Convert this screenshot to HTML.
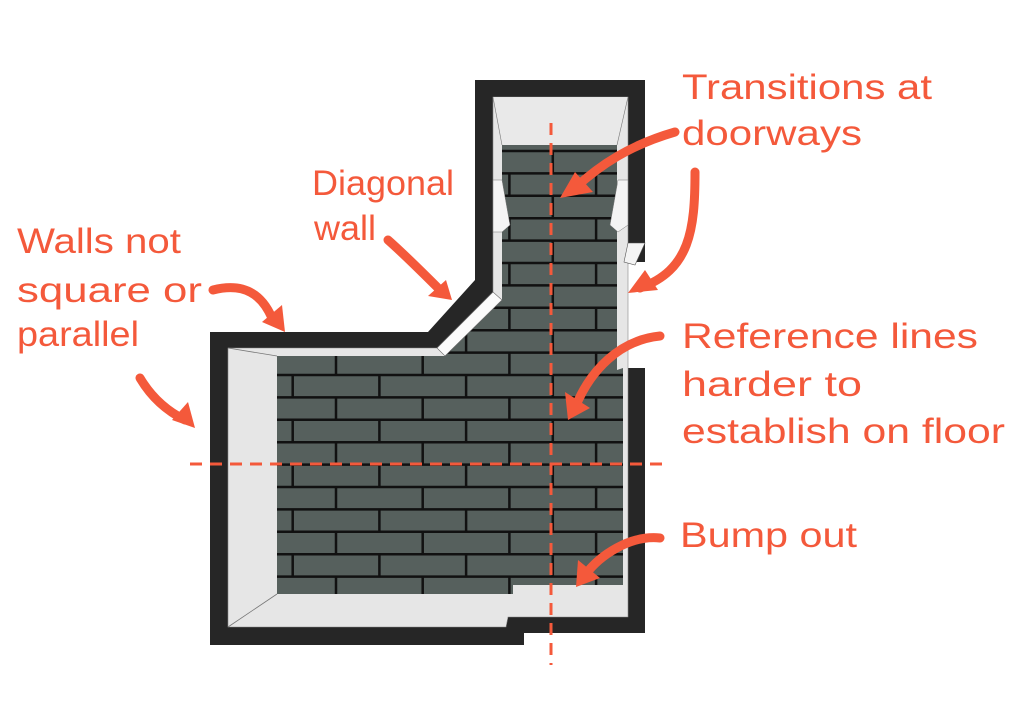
<!DOCTYPE html>
<html><head><meta charset="utf-8"><style>
html,body{margin:0;padding:0;background:#fff;width:1024px;height:721px;overflow:hidden}
text{font-family:"Liberation Sans",sans-serif;fill:#f4593b;font-size:35px}
</style></head><body>
<svg width="1024" height="721" viewBox="0 0 1024 721" xmlns="http://www.w3.org/2000/svg">
<defs>
<clipPath id="tc"><polygon points="277,356 445,356 502,300 502,145 617,145 617,370 623,368 623,585 513,585 513,594 277,594"/></clipPath>
</defs>
<polygon points="210,332 428,332 475,280 475,80 645,80 645,633 524,633 524,645 210,645" fill="#262626"/>
<rect x="624" y="262" width="30" height="106" fill="#fff"/>
<polygon points="228,348 437,348 493,292 493,97 628,97 628,617 508,617 506,627 228,627" fill="#e6e6e6" stroke="#888" stroke-width="0.6"/>
<line x1="228" y1="348" x2="277" y2="356" stroke="#777" stroke-width="0.8"/>
<line x1="228" y1="627" x2="277" y2="594" stroke="#777" stroke-width="0.8"/>
<polygon points="628,243 645,243 635,265 624,262" fill="#f4f4f4" stroke="#555" stroke-width="0.6"/>
<g clip-path="url(#tc)">
<rect x="270" y="140" width="360" height="460" fill="#56605d"/>
<g stroke="#111" stroke-width="2.5">
<path d="M270 151.0H630M270 173.4H630M270 195.8H630M270 218.2H630M270 240.6H630M270 263.0H630M270 285.4H630M270 307.8H630M270 330.2H630M270 352.6H630M270 375.0H630M270 397.4H630M270 419.8H630M270 442.2H630M270 464.6H630M270 487.0H630M270 509.4H630M270 531.8H630M270 554.2H630M270 576.6H630"/>
<path d="M552.8 151V173.4M509.4 173.4V195.8M596.1 173.4V195.8M552.8 195.8V218.2M509.4 218.2V240.6M596.1 218.2V240.6M552.8 240.6V263M509.4 263V285.4M596.1 263V285.4M552.8 285.4V307.8M509.4 307.8V330.2M596.1 307.8V330.2M466.1 330.2V352.6M552.8 330.2V352.6"/>
<path d="M336 352.6V375M422.7 352.6V375M509.4 352.6V375M596.1 352.6V375"/>
<path d="M292.7 375V397.4M379.4 375V397.4M466.1 375V397.4M552.8 375V397.4"/>
<path d="M336 397.4V419.8M422.7 397.4V419.8M509.4 397.4V419.8M596.1 397.4V419.8"/>
<path d="M292.7 419.8V442.2M379.4 419.8V442.2M466.1 419.8V442.2M552.8 419.8V442.2"/>
<path d="M336 442.2V464.6M422.7 442.2V464.6M509.4 442.2V464.6M596.1 442.2V464.6"/>
<path d="M292.7 464.6V487M379.4 464.6V487M466.1 464.6V487M552.8 464.6V487"/>
<path d="M336 487V509.4M422.7 487V509.4M509.4 487V509.4M596.1 487V509.4"/>
<path d="M292.7 509.4V531.8M379.4 509.4V531.8M466.1 509.4V531.8M552.8 509.4V531.8"/>
<path d="M336 531.8V554.2M422.7 531.8V554.2M509.4 531.8V554.2M596.1 531.8V554.2"/>
<path d="M292.7 554.2V576.6M379.4 554.2V576.6M466.1 554.2V576.6M552.8 554.2V576.6"/>
<path d="M336 576.6V599M422.7 576.6V599M509.4 576.6V599M596.1 576.6V599"/>
</g>
</g>
<polygon points="437,348 493,292 502,300 445,356" fill="#fbfbfb" stroke="#666" stroke-width="0.6"/>
<polygon points="493,180 502,180 510,225 502,232 493,232" fill="#f4f4f4" stroke="#777" stroke-width="0.5"/>
<polygon points="628,180 618,180 610,225 618,232 628,225" fill="#f4f4f4" stroke="#777" stroke-width="0.5"/>
<polygon points="493,97 628,97 617,145 502,145" fill="#e9e9e9" opacity="0.9"/>
<line x1="493" y1="97" x2="502" y2="145" stroke="#777" stroke-width="0.6"/>
<line x1="628" y1="97" x2="617" y2="145" stroke="#777" stroke-width="0.6"/>
<line x1="190" y1="464" x2="666" y2="464" stroke="#f4593b" stroke-width="3" stroke-dasharray="12,8"/>
<line x1="551" y1="123" x2="551" y2="665" stroke="#f4593b" stroke-width="3" stroke-dasharray="12,8"/>
<g fill="none" stroke="#f4593b" stroke-width="9" stroke-linecap="round">
<path d="M675 132 C630 145 600 165 575 188"/>
<path d="M695 172 C695 230 690 270 640 288"/>
<path d="M388 240 C405 255 425 275 440 290"/>
<path d="M213 290 C245 282 262 295 272 318"/>
<path d="M140 378 C150 395 165 410 185 420"/>
<path d="M660 336 C620 340 590 370 575 408"/>
<path d="M660 538 C630 535 600 555 585 575"/>
</g>
<g fill="#f4593b">
<polygon points="560,198 575,172 593,192"/>
<polygon points="628,293 645,270 658,290"/>
<polygon points="452,300 428,296 446,280"/>
<polygon points="285,332 262,322 282,305"/>
<polygon points="195,428 172,420 188,402"/>
<polygon points="568,420 565,392 590,408"/>
<polygon points="576,587 578,560 600,578"/>
</g>
<g>
<text x="682" y="99" textLength="250" lengthAdjust="spacingAndGlyphs">Transitions at</text>
<text x="682" y="145" textLength="180" lengthAdjust="spacingAndGlyphs">doorways</text>
<text x="312" y="195" textLength="142" lengthAdjust="spacingAndGlyphs">Diagonal</text>
<text x="314" y="240" textLength="62" lengthAdjust="spacingAndGlyphs">wall</text>
<text x="17" y="253" textLength="164" lengthAdjust="spacingAndGlyphs">Walls not</text>
<text x="17" y="302" textLength="185" lengthAdjust="spacingAndGlyphs">square or</text>
<text x="17" y="346" textLength="122" lengthAdjust="spacingAndGlyphs">parallel</text>
<text x="682" y="348" textLength="296" lengthAdjust="spacingAndGlyphs">Reference lines</text>
<text x="682" y="396" textLength="180" lengthAdjust="spacingAndGlyphs">harder to</text>
<text x="682" y="443" textLength="323" lengthAdjust="spacingAndGlyphs">establish on floor</text>
<text x="680" y="547" textLength="177" lengthAdjust="spacingAndGlyphs">Bump out</text>
</g>
</svg>
</body></html>
